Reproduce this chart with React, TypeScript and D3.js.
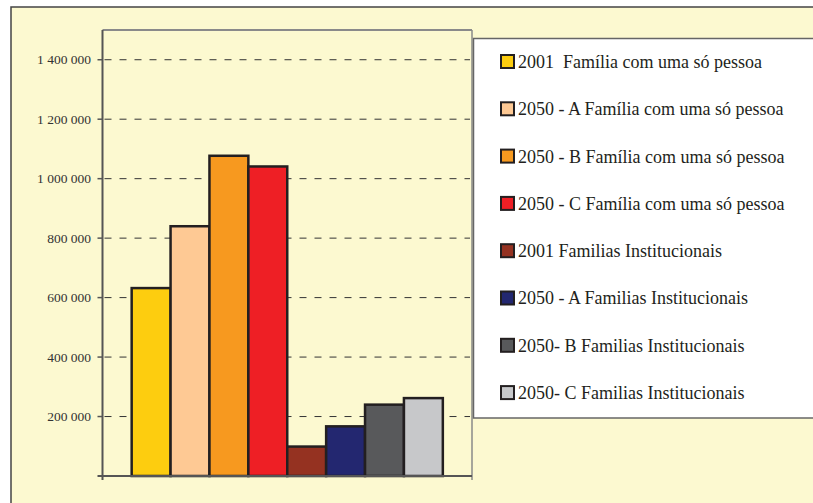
import { scaleBand, scaleLinear, format } from "d3";

const series = [
  "2001  Família com uma só pessoa",
  "2050 - A Família com uma só pessoa",
  "2050 - B Família com uma só pessoa",
  "2050 - C Família com uma só pessoa",
  "2001 Familias Institucionais",
  "2050 - A Familias Institucionais",
  "2050- B Familias Institucionais",
  "2050- C Familias Institucionais",
];
const values = [632000, 840000, 1077000, 1041000, 99000, 167000, 240000, 262000];
const colors = ["#FDCD0F", "#FEC994", "#F7991F", "#EE1F25", "#953221", "#232770", "#58595B", "#C7C8CA"];
const yTicks = [200000, 400000, 600000, 800000, 1000000, 1200000, 1400000];

const W = 813;
const H = 503;
const plot = { left: 102.5, right: 472, top: 30, bottom: 476 };
const legend = { left: 473.5, top: 38.5, bottom: 418, first: 61.5, step: 47.3 };
const serif = '"Liberation Serif", "DejaVu Serif", "Times New Roman", Times, serif';

const App = () => {
  const y = scaleLinear().domain([0, 1500000]).range([plot.bottom, plot.top]);
  const x = scaleBand<string>()
    .domain(series)
    .range([plot.left, plot.right])
    .paddingInner(0)
    .paddingOuter(0.75);
  const fmt = (v: number) => format(",")(v).replace(/,/g, " ");

  return (
    <svg width={W} height={H} style={{ position: "absolute", left: 0, top: 0, fontFamily: serif }}>
      <rect x={0} y={0} width={W} height={H} fill="#ffffff" />
      <rect x={11} y={7} width={W + 10} height={H + 10} fill="#FCF9D0" stroke="#444" strokeWidth={1.5} />

      {/* plot frame */}
      <line x1={plot.left} x2={plot.right} y1={plot.top} y2={plot.top} stroke="#8a8a8a" strokeWidth={2} />
      <line x1={plot.right} x2={plot.right} y1={plot.top} y2={plot.bottom + 4} stroke="#8a8a8a" strokeWidth={1.5} />

      {/* gridlines */}
      {yTicks.map(t => (
        <line key={t} x1={plot.left + 2} x2={plot.right - 2} y1={y(t)} y2={y(t)}
          stroke="#333" strokeWidth={1} strokeDasharray="7 8" />
      ))}

      {/* bars */}
      {series.map((s, i) => (
        <rect key={s} x={x(s)} y={y(values[i])} width={x.bandwidth()} height={plot.bottom - y(values[i])}
          fill={colors[i]} stroke="#231F20" strokeWidth={2.5} />
      ))}

      {/* axes */}
      <line x1={plot.left} x2={plot.left} y1={plot.top} y2={plot.bottom + 4} stroke="#555" strokeWidth={2} />
      <line x1={plot.left - 5} x2={plot.right} y1={plot.bottom} y2={plot.bottom} stroke="#555" strokeWidth={2} />
      {yTicks.map(t => (
        <g key={t} transform={`translate(0,${y(t)})`}>
          <line x1={plot.left - 5} x2={plot.left} stroke="#555" strokeWidth={1.5} />
          <text x={91} dy="0.35em" textAnchor="end" fontSize={13.5} fill="#333">{fmt(t)}</text>
        </g>
      ))}

      {/* legend */}
      <rect x={legend.left} y={legend.top} width={W} height={legend.bottom - legend.top}
        fill="#ffffff" stroke="#666" strokeWidth={1.5} />
      {series.map((s, i) => {
        const cy = legend.first + i * legend.step;
        return (
          <g key={s}>
            <rect x={501} y={cy - 6.5} width={13} height={13} fill={colors[i]} stroke="#231F20" strokeWidth={2} />
            <text x={518} y={cy} dy="0.36em" fontSize={18} fill="#231F20"
              style={{ whiteSpace: "pre" }}>{s}</text>
          </g>
        );
      })}
    </svg>
  );
};

export default App;
